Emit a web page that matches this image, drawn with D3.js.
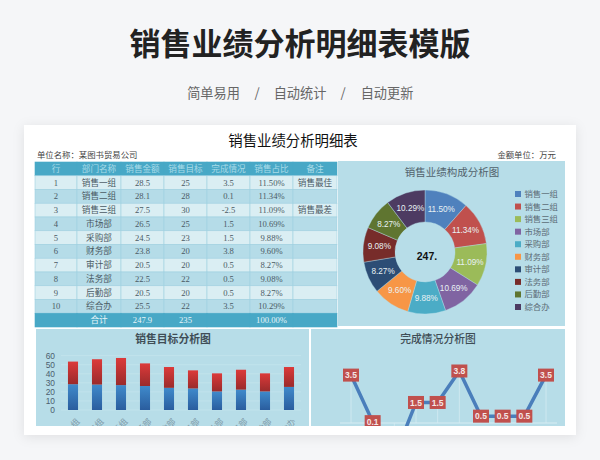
<!DOCTYPE html>
<html>
<head>
<meta charset="utf-8">
<script src="https://cdnjs.cloudflare.com/ajax/libs/d3/7.8.5/d3.min.js"></script>
<style>
html, body { margin: 0; padding: 0; background: #f5f6f8; }
svg { display: block; }
.cjk { font-family: "Noto Sans CJK SC", sans-serif; }
.cell { font-family: "Liberation Serif", "Noto Sans CJK SC", serif; font-size: 8.6px; fill: #4b5a64; }
</style>
</head>
<body>
<svg id="chart" width="600" height="460"></svg>
<script>
const headers = ["行", "部门名称", "销售金额", "销售目标", "完成情况", "销售占比", "备注"];
const rowNums = [1, 2, 3, 4, 5, 6, 7, 8, 9, 10];
const depts = ["销售一组", "销售二组", "销售三组", "市场部", "采购部", "财务部", "审计部", "法务部", "后勤部", "综合办"];
const sales = [28.5, 28.1, 27.5, 26.5, 24.5, 23.8, 20.5, 22.5, 20.5, 25.5];
const targets = [25, 28, 30, 25, 23, 20, 20, 22, 20, 22];
const done = [3.5, 0.1, -2.5, 1.5, 1.5, 3.8, 0.5, 0.5, 0.5, 3.5];
const shares = ["11.50%", "11.34%", "11.09%", "10.69%", "9.88%", "9.60%", "8.27%", "9.08%", "8.27%", "10.29%"];
const notes = ["销售最佳", "", "销售最差", "", "", "", "", "", "", ""];
const totals = ["", "合计", "247.9", "235", "", "100.00%", ""];
const pieColors = ["#4f81bd", "#c0504d", "#9bbb59", "#8064a2", "#4bacc6", "#f79646", "#2c4d75", "#772c2a", "#5f7530", "#4d3b62"];

const svg = d3.select("#chart");
const defs = svg.append("defs");

function addGrad(id, top, bottom) {
  const g = defs.append("linearGradient").attr("id", id).attr("x1", 0).attr("y1", 0).attr("x2", 0).attr("y2", 1);
  g.append("stop").attr("offset", "0%").attr("stop-color", top);
  g.append("stop").attr("offset", "100%").attr("stop-color", bottom);
}
addGrad("blueBar", "#3f8acb", "#2a5d9e");
addGrad("redBar", "#dc3a3a", "#9a2b2b");

const shadow = defs.append("filter").attr("id", "cardShadow")
  .attr("x", "-10%").attr("y", "-10%").attr("width", "120%").attr("height", "120%");
shadow.append("feDropShadow").attr("dx", 0).attr("dy", 2).attr("stdDeviation", 6)
  .attr("flood-color", "#000").attr("flood-opacity", 0.09);

// page heading
svg.append("text").attr("class", "cjk").attr("x", 300).attr("y", 44).attr("dy", "0.36em")
  .attr("text-anchor", "middle").attr("font-size", 31).attr("font-weight", 700).attr("fill", "#222")
  .text("销售业绩分析明细表模版");
[["简单易用", 213.5], ["/", 257], ["自动统计", 300], ["/", 343], ["自动更新", 387]].forEach(d => {
  svg.append("text").attr("class", "cjk").attr("x", d[1]).attr("y", 93).attr("dy", "0.36em")
    .attr("text-anchor", "middle").attr("font-size", 13.2).attr("fill", "#666").text(d[0]);
});

// card
svg.append("rect").attr("x", 24).attr("y", 125).attr("width", 552).attr("height", 310)
  .attr("fill", "#fff").attr("filter", "url(#cardShadow)");

svg.append("text").attr("class", "cjk").attr("x", 293).attr("y", 141).attr("dy", "0.36em")
  .attr("text-anchor", "middle").attr("font-size", 14.4).attr("fill", "#111").text("销售业绩分析明细表");
svg.append("text").attr("class", "cjk").attr("x", 37).attr("y", 155).attr("dy", "0.36em")
  .attr("font-size", 8.4).attr("fill", "#444").text("单位名称：某图书贸易公司");
svg.append("text").attr("class", "cjk").attr("x", 556).attr("y", 155).attr("dy", "0.36em")
  .attr("text-anchor", "end").attr("font-size", 8.4).attr("fill", "#444").text("金额单位：万元");

// table
const colEdges = [35, 77, 121, 164, 207, 250, 293, 337];
const rowY = d3.scaleBand().domain(d3.range(12)).range([162, 327]);
const tableRows = [headers].concat(rowNums.map((n, i) =>
  [n, depts[i], sales[i].toFixed(1), targets[i], done[i].toFixed(1), shares[i], notes[i]])).concat([totals]);

const tr = svg.append("g").selectAll("g").data(tableRows).join("g")
  .attr("transform", (d, i) => `translate(0,${rowY(i)})`);

tr.each(function(row, r) {
  const isBand = r === 0 || r === 11;
  const fill = isBand ? "#48a8c6" : (r % 2 ? "#daeef3" : "#b5dce8");
  const g = d3.select(this);
  g.selectAll("rect").data(row).join("rect")
    .attr("x", (d, i) => colEdges[i])
    .attr("width", (d, i) => colEdges[i + 1] - colEdges[i])
    .attr("height", rowY.bandwidth())
    .attr("fill", fill)
    .attr("stroke", isBand ? "#48a8c6" : "#9fd0e0")
    .attr("stroke-width", 0.6);
  g.selectAll("text").data(row).join("text")
    .attr("class", "cell")
    .attr("x", (d, i) => (colEdges[i] + colEdges[i + 1]) / 2)
    .attr("y", rowY.bandwidth() / 2)
    .attr("dy", "0.36em")
    .attr("text-anchor", "middle")
    .style("fill", isBand ? (r === 0 ? "#a8dbe8" : "#e6f5f9") : null)
    .text(d => d);
});

// donut panel
svg.append("rect").attr("x", 338).attr("y", 161).attr("width", 227).attr("height", 165).attr("fill", "#b7dde8");
svg.append("text").attr("class", "cjk").attr("x", 452).attr("y", 172).attr("dy", "0.36em")
  .attr("text-anchor", "middle").attr("font-size", 10.5).attr("fill", "#52626c").text("销售业绩构成分析图");

const pie = d3.pie().sort(null).value(d => d);
const arc = d3.arc().innerRadius(30).outerRadius(62);
const donut = svg.append("g").attr("transform", "translate(425,252)");
const slices = pie(sales);
donut.selectAll("path").data(slices).join("path")
  .attr("d", arc)
  .attr("fill", (d, i) => pieColors[i])
  .attr("stroke", "#b7dde8")
  .attr("stroke-width", 0.4);
donut.selectAll("text").data(slices).join("text")
  .attr("transform", d => `translate(${d3.arc().innerRadius(46).outerRadius(46).centroid(d)})`)
  .attr("dy", "0.36em")
  .attr("text-anchor", "middle")
  .attr("font-family", "Liberation Sans, sans-serif")
  .attr("font-size", 8.2)
  .attr("fill", "#e8f1f4")
  .text((d, i) => shares[i]);

svg.append("text").attr("x", 427).attr("y", 256).attr("dy", "0.36em")
  .attr("text-anchor", "middle").attr("font-family", "Liberation Sans, sans-serif")
  .attr("font-size", 10.5).attr("font-weight", 700).attr("fill", "#111").text("247.");

const legendY = d3.scalePoint().domain(depts).range([194, 307]);
const legend = svg.append("g").selectAll("g").data(depts).join("g")
  .attr("transform", d => `translate(515,${legendY(d)})`);
legend.append("rect").attr("y", -3).attr("width", 6).attr("height", 6).attr("fill", (d, i) => pieColors[i]);
legend.append("text").attr("class", "cjk").attr("x", 9.5).attr("dy", "0.36em")
  .attr("font-size", 8.4).attr("fill", "#5c6c76").text(d => d);

// stacked bars panel, bottom of it is cut off in the reference
const clipBottom = 426;
defs.append("clipPath").attr("id", "lowClip").append("rect")
  .attr("x", 0).attr("y", 329).attr("width", 600).attr("height", clipBottom - 329);
const barPanel = svg.append("g").attr("clip-path", "url(#lowClip)");
barPanel.append("rect").attr("x", 36).attr("y", 329).attr("width", 273).attr("height", 97).attr("fill", "#b7dde8");
barPanel.append("text").attr("class", "cjk").attr("x", 173).attr("y", 339).attr("dy", "0.36em")
  .attr("text-anchor", "middle").attr("font-size", 10.8).attr("font-weight", 700).attr("fill", "#3f4d56").text("销售目标分析图");

const xBar = d3.scaleBand().domain(depts).range([61, 301]).paddingInner(0.58).paddingOuter(0.29);
const yBar = d3.scaleLinear().domain([0, 60]).range([410, 355.7]);
barPanel.append("g").selectAll("line").data(yBar.ticks(6)).join("line")
  .attr("x1", 61).attr("x2", 301)
  .attr("y1", d => yBar(d)).attr("y2", d => yBar(d))
  .attr("stroke", "#c6e5ee").attr("stroke-width", 0.7);

const yAxisBar = barPanel.append("g").attr("transform", "translate(58,0)")
  .call(d3.axisLeft(yBar).ticks(6).tickSize(0));
yAxisBar.select(".domain").remove();
yAxisBar.selectAll("text").attr("font-family", "Liberation Sans, sans-serif").attr("font-size", 8.4).attr("fill", "#4c5f6e");

const xAxisBar = barPanel.append("g").attr("transform", "translate(0,410)")
  .call(d3.axisBottom(xBar).tickSize(0));
xAxisBar.select(".domain").remove();
// only the tail of each rotated label shows above the cut
xAxisBar.selectAll("text").attr("class", "cjk").attr("font-size", 8.4).attr("fill", "#7c97a6")
  .attr("text-anchor", "end").attr("x", 0).attr("y", 0).attr("dy", "0.36em")
  .attr("transform", "translate(5,10) rotate(-45)");

barPanel.append("g").selectAll("rect").data(depts).join("rect")
  .attr("x", d => xBar(d)).attr("width", xBar.bandwidth())
  .attr("y", (d, i) => yBar(sales[i]))
  .attr("height", (d, i) => yBar(0) - yBar(sales[i]))
  .attr("fill", "url(#blueBar)");
barPanel.append("g").selectAll("rect").data(depts).join("rect")
  .attr("x", d => xBar(d)).attr("width", xBar.bandwidth())
  .attr("y", (d, i) => yBar(sales[i] + targets[i]))
  .attr("height", (d, i) => yBar(sales[i]) - yBar(sales[i] + targets[i]))
  .attr("fill", "url(#redBar)");

// completion line panel
const linePanel = svg.append("g").attr("clip-path", "url(#lowClip)");
linePanel.append("rect").attr("x", 311).attr("y", 329).attr("width", 254).attr("height", 97).attr("fill", "#b7dde8");
linePanel.append("text").attr("class", "cjk").attr("x", 438).attr("y", 339).attr("dy", "0.36em")
  .attr("text-anchor", "middle").attr("font-size", 10.8).attr("font-weight", 500).attr("fill", "#3f4d56").text("完成情况分析图");

const xLine = d3.scalePoint().domain(depts).range([351, 546]);
const yLine = d3.scaleLinear().domain([0, 3.8]).range([423, 371]);

linePanel.append("line").attr("x1", 340).attr("x2", 557)
  .attr("y1", yLine(0)).attr("y2", yLine(0)).attr("stroke", "#d8edf3").attr("stroke-width", 1);
linePanel.append("g").selectAll("line").data(depts).join("line")
  .attr("x1", d => xLine(d)).attr("x2", d => xLine(d))
  .attr("y1", (d, i) => yLine(done[i])).attr("y2", yLine(0))
  .attr("stroke", "#d8edf3").attr("stroke-width", 0.7);

const lineGen = d3.line().x((d, i) => xLine(depts[i])).y(d => yLine(d));
linePanel.append("path").datum(done)
  .attr("d", lineGen).attr("fill", "none").attr("stroke", "#4a7ebb").attr("stroke-width", 3.5);

// the -2.5 point sits below the cut, so it gets no tag
const visibleDone = done.map((v, i) => ({ v, dept: depts[i] })).filter(d => yLine(d.v) < clipBottom);
const tags = linePanel.append("g").selectAll("g").data(visibleDone).join("g")
  .attr("transform", d => `translate(${xLine(d.dept)},${yLine(d.v)})`);
tags.append("rect").attr("x", -8).attr("y", -6.5).attr("width", 16).attr("height", 13).attr("fill", "#c0504d");
tags.append("text").attr("dy", "0.36em").attr("text-anchor", "middle")
  .attr("font-family", "Liberation Sans, sans-serif").attr("font-size", 8.5).attr("font-weight", 700)
  .attr("fill", "#f4e6e6").text(d => d.v.toFixed(1));
</script>
</body>
</html>
